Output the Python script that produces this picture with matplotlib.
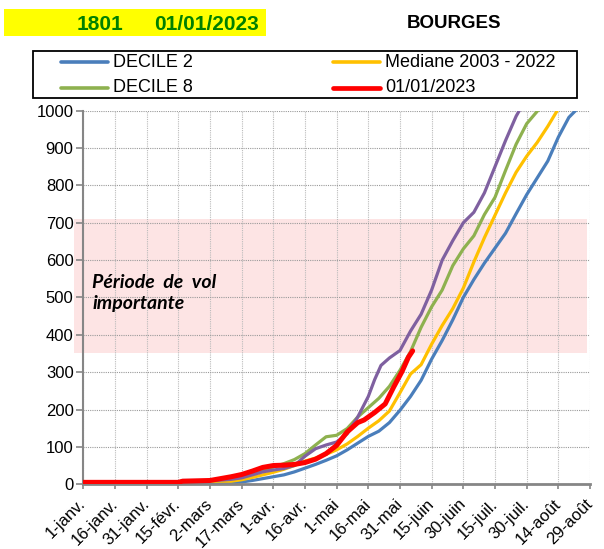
import numpy as np
import matplotlib.pyplot as plt
from matplotlib.patches import Rectangle
from matplotlib.lines import Line2D

plt.rcParams['font.family'] = ['Liberation Sans', 'DejaVu Sans']

# day of year (0 = 1 janv.) and cumulative counts
days_d2 = [0, 45, 60, 70, 75, 80, 85, 90, 95, 100, 105, 110, 115, 120, 125, 130, 135, 140, 145,
           150, 155, 160, 165, 170, 175, 180, 185, 190, 195, 200, 205, 210, 215, 220, 225, 230, 234]
decile2 = [2, 3, 4, 4, 6, 10, 15, 20, 25, 33, 43, 53, 64, 76, 92, 110, 128, 142, 165,
           198, 235, 278, 335, 385, 440, 500, 548, 592, 632, 672, 724, 775, 820, 865, 929, 982, 1005]

days_med = [0, 45, 47, 70, 75, 80, 85, 90, 95, 100, 105, 110, 115, 120, 125, 130, 135, 140, 145,
            150, 155, 160, 165, 170, 175, 180, 185, 190, 195, 200, 205, 210, 215, 220, 225]
mediane = [2, 3, 8, 8, 12, 18, 25, 32, 40, 50, 62, 70, 80, 92, 108, 128, 150, 170, 196,
           245, 295, 320, 375, 425, 470, 525, 595, 660, 720, 780, 835, 878, 915, 958, 1005]

days_d8 = [0, 45, 47, 60, 65, 70, 75, 80, 85, 90, 95, 100, 105, 110, 115, 120, 125, 130, 135, 140,
           145, 150, 155, 160, 165, 170, 175, 180, 185, 190, 195, 200, 205, 210, 216]
decile8 = [3, 3, 9, 10, 13, 18, 22, 30, 38, 46, 55, 66, 82, 105, 127, 131, 149, 180, 205, 230,
           262, 305, 355, 420, 475, 520, 585, 630, 665, 722, 768, 840, 910, 965, 1005]

days_max = [0, 45, 47, 60, 65, 70, 75, 80, 85, 90, 95, 100, 105, 110, 115, 120, 125, 130, 135, 138,
            141, 145, 150, 155, 160, 165, 170, 175, 180, 185, 190, 195, 200, 205, 207]
maxi = [2, 2, 10, 10, 11, 13, 17, 25, 33, 38, 42, 50, 75, 95, 105, 113, 135, 180, 235, 280,
        318, 338, 358, 410, 455, 520, 600, 652, 700, 728, 780, 850, 920, 985, 1005]

days_2023 = [0, 45, 47, 60, 65, 70, 75, 80, 85, 90, 95, 100, 105, 110, 115, 120, 125, 130, 133,
             138, 143, 147, 151, 154, 156]
annee_2023 = [5, 5, 8, 10, 15, 20, 26, 35, 45, 50, 51, 53, 58, 67, 82, 104, 140, 165, 172,
              192, 215, 260, 302, 340, 357]

tick_days = [0, 15, 30, 45, 60, 75, 90, 105, 120, 135, 150, 165, 180, 195, 210, 225, 240]
tick_labels = ['1-janv.', '16-janv.', '31-janv.', '15-févr.', '2-mars', '17-mars', '1-avr.',
               '16-avr.', '1-mai', '16-mai', '31-mai', '15-juin', '30-juin', '15-juil.',
               '30-juil.', '14-août', '29-août']

c_blue = '#4A7EBB'
c_orange = '#FFC000'
c_green = '#8EB14F'
c_red = '#FF0000'
c_purple = '#7F60A0'

fig = plt.figure(figsize=(6.04, 5.49), dpi=100)
ax = fig.add_axes([0.1379, 0.1180, 0.8389, 0.6804])

# "periode de vol importante" band
ax.add_patch(Rectangle((-4.4, 350), 242.8, 361, facecolor='#FDE4E4', edgecolor='none',
                       zorder=0.1, clip_on=False))
ax.text(4.2, 512, 'Période  de  vol\nimportante', family=['Lato', 'DejaVu Sans'],
        fontsize=14, fontweight='bold', style='italic', va='center', ha='left',
        linespacing=1.25, zorder=1)

ax.plot(days_d2, decile2, color=c_blue, lw=2.3, zorder=2)
ax.plot(days_med, mediane, color=c_orange, lw=2.3, zorder=2)
ax.plot(days_d8, decile8, color=c_green, lw=2.3, zorder=2)
ax.plot(days_max, maxi, color=c_purple, lw=2.3, zorder=2)
ax.plot(days_2023, annee_2023, color=c_red, lw=3.6, zorder=3, solid_capstyle='round')

ax.set_xlim(0, 240)
ax.set_ylim(0, 1000)
ax.set_yticks(np.arange(0, 1001, 100))
ax.set_xticks(tick_days)
ax.set_xticklabels(tick_labels, rotation=45, ha='right', va='center', rotation_mode='anchor')
ax.tick_params(axis='y', labelsize=12, length=4.7, width=1.2, color='#868686', pad=2.3)
ax.tick_params(axis='x', labelsize=12, length=3.5, width=1.2, color='#868686', pad=9)

ax.set_axisbelow(True)
ax.grid(axis='y', color='#9A9A9A', linestyle=(0, (1, 1)), linewidth=0.8)
ax.grid(axis='x', color='#BBBBBB', linestyle=(0, (1, 1)), linewidth=0.8)
for s in ['top', 'right']:
    ax.spines[s].set_visible(False)
ax.spines['left'].set_color('#868686')
ax.spines['left'].set_linewidth(1.5)
ax.spines['bottom'].set_color('#868686')
ax.spines['bottom'].set_linewidth(2)

# header
W, H = 604.0, 549.0
fig.add_artist(Rectangle((4.3 / W, 1 - 35.7 / H), 261.4 / W, 26.4 / H, transform=fig.transFigure,
                         facecolor='#FFFF00', edgecolor='none'))
fig.text(100 / W, 1 - 24 / H, '1801', color='#008000', fontsize=15, fontweight='bold',
         ha='center', va='center')
fig.text(207 / W, 1 - 24 / H, '01/01/2023', color='#008000', fontsize=15, fontweight='bold',
         ha='center', va='center')
fig.text(454 / W, 1 - 24 / H, 'BOURGES', color='black', fontsize=13.5, fontweight='bold',
         ha='center', va='center')

# legend box
fig.add_artist(Rectangle((33.3 / W, 1 - 98.3 / H), 543.4 / W, 47.6 / H, transform=fig.transFigure,
                         facecolor='white', edgecolor='black', linewidth=1.3))
entries = [(61, 62.3, c_blue, 2.6, 'DECILE 2'),
           (61, 87.7, c_green, 2.6, 'DECILE 8'),
           (333, 62.3, c_orange, 2.6, 'Mediane 2003 - 2022'),
           (333, 87.7, c_red, 3.4, '01/01/2023')]
for x0, y0, col, lw, lab in entries:
    fig.add_artist(Line2D([x0 / W, (x0 + 47) / W], [1 - y0 / H, 1 - y0 / H],
                          transform=fig.transFigure, color=col, lw=lw, solid_capstyle='round'))
    fig.text((x0 + 52) / W, 1 - y0 / H, lab, fontsize=13, ha='left', va='center')

plt.savefig('out.png', dpi=100)
